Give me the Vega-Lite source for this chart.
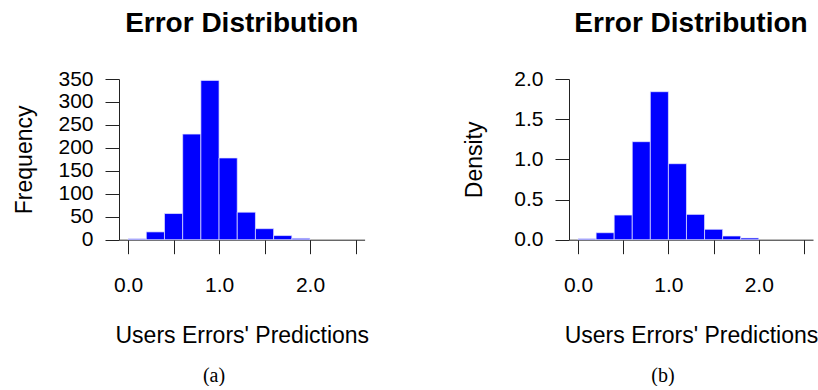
{
  "$schema": "https://vega.github.io/schema/vega-lite/v6.json",
  "background": "white",
  "padding": {"left": 12, "top": 10, "right": 0, "bottom": 0},
  "autosize": {"type": "pad"},
  "spacing": 93,
  "config": {
    "view": {"stroke": null},
    "font": "Liberation Sans",
    "axis": {
      "grid": false,
      "labelFont": "Liberation Sans",
      "labelFontSize": 21,
      "labelColor": "black",
      "titleFont": "Liberation Sans",
      "titleFontSize": 23,
      "titleFontWeight": "normal",
      "titleColor": "black",
      "domainColor": "#222",
      "tickColor": "#222",
      "tickSize": 14,
      "domainWidth": 1,
      "tickWidth": 1,
      "labelFlush": false,
      "labelOverlap": false
    },
    "axisX": {"labelPadding": 21, "titlePadding": 29},
    "axisY": {"labelPadding": 12, "titleX": -106, "titleY": 80.35, "titleBaseline": "top", "titleAlign": "center", "titleAngle": -90},
    "title": {
      "font": "Liberation Sans",
      "fontSize": 28,
      "fontWeight": "bold",
      "color": "black",
      "anchor": "middle",
      "frame": "group",
      "baseline": "alphabetic",
      "offset": 30
    }
  },
  "datasets": {
    "hist": [
      {"bin_start": 0.0, "bin_end": 0.2, "frequency": 2, "density": 0.012},
      {"bin_start": 0.2, "bin_end": 0.4, "frequency": 17, "density": 0.087},
      {"bin_start": 0.4, "bin_end": 0.6, "frequency": 57, "density": 0.307},
      {"bin_start": 0.6, "bin_end": 0.8, "frequency": 230, "density": 1.22},
      {"bin_start": 0.8, "bin_end": 1.0, "frequency": 347, "density": 1.842},
      {"bin_start": 1.0, "bin_end": 1.2, "frequency": 178, "density": 0.946},
      {"bin_start": 1.2, "bin_end": 1.4, "frequency": 60, "density": 0.315},
      {"bin_start": 1.4, "bin_end": 1.6, "frequency": 24, "density": 0.129},
      {"bin_start": 1.6, "bin_end": 1.8, "frequency": 9, "density": 0.046},
      {"bin_start": 1.8, "bin_end": 2.0, "frequency": 3, "density": 0.021}
    ]
  },
  "hconcat": [
    {
      "title": {"text": "(a)", "orient": "bottom", "font": "Liberation Serif", "fontSize": 20, "fontWeight": "normal", "baseline": "top", "offset": 18, "dx": 95, "anchor": "middle", "frame": "group"},
      "vconcat": [
        {
          "title": {"text": "Error Distribution"},
          "width": 245.6,
          "height": 160.7,
          "data": {"name": "hist"},
          "mark": {"type": "bar", "fill": "#0000FF", "stroke": "#e6e6ff", "strokeWidth": 0.7},
          "encoding": {
            "x": {
              "field": "bin_start", "type": "quantitative",
              "scale": {"domain": [-0.1, 2.6], "nice": false, "zero": false},
              "axis": {"title": "Users Errors' Predictions", "values": [0, 0.5, 1, 1.5, 2, 2.5], "labelExpr": "datum.value % 1 === 0 ? format(datum.value, '.1f') : ''"}
            },
            "x2": {"field": "bin_end"},
            "y": {
              "field": "frequency", "type": "quantitative",
              "scale": {"domain": [0, 350], "nice": false},
              "axis": {"title": "Frequency", "values": [0, 50, 100, 150, 200, 250, 300, 350], "format": "d"}
            },
            "y2": {"datum": 0}
          }
        }
      ]
    },
    {
      "title": {"text": "(b)", "orient": "bottom", "font": "Liberation Serif", "fontSize": 20, "fontWeight": "normal", "baseline": "top", "offset": 18, "dx": 94, "anchor": "middle", "frame": "group"},
      "vconcat": [
        {
          "title": {"text": "Error Distribution"},
          "width": 244,
          "height": 160.7,
          "data": {"name": "hist"},
          "mark": {"type": "bar", "fill": "#0000FF", "stroke": "#e6e6ff", "strokeWidth": 0.7},
          "encoding": {
            "x": {
              "field": "bin_start", "type": "quantitative",
              "scale": {"domain": [-0.1, 2.6], "nice": false, "zero": false},
              "axis": {"title": "Users Errors' Predictions", "values": [0, 0.5, 1, 1.5, 2, 2.5], "labelExpr": "datum.value % 1 === 0 ? format(datum.value, '.1f') : ''"}
            },
            "x2": {"field": "bin_end"},
            "y": {
              "field": "density", "type": "quantitative",
              "scale": {"domain": [0, 2], "nice": false},
              "axis": {"title": "Density", "values": [0, 0.5, 1, 1.5, 2], "format": ".1f"}
            },
            "y2": {"datum": 0}
          }
        }
      ]
    }
  ]
}
